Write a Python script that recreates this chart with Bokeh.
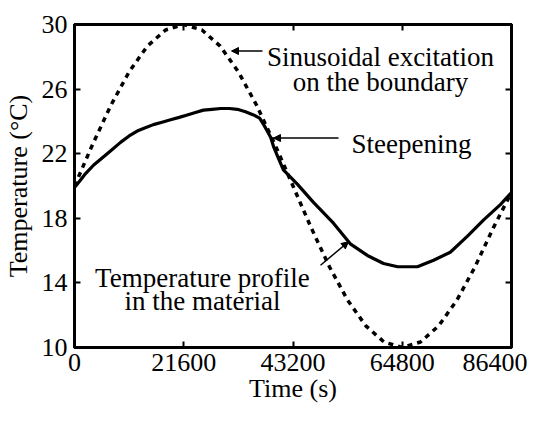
from bokeh.plotting import figure
from bokeh.models import (Range1d, FixedTicker, LinearAxis, Label, Arrow,
                          NormalHead, CustomJSTickFormatter)
from bokeh.embed import file_html
from bokeh.resources import INLINE

# ---- data ----
time_exc = [0, 3600, 7200, 10800, 14400, 18000, 21600, 25200, 28800, 32400, 36000, 39600,
            43200, 46800, 50400, 54000, 57600, 61200, 64800, 68400, 72000, 75600, 79200, 82800, 86400]
temp_exc = [20.0, 22.59, 25.0, 27.07, 28.66, 29.66, 30.0, 29.66, 28.66, 27.07, 25.0, 22.59,
            20.0, 17.41, 15.0, 12.93, 11.34, 10.34, 10.0, 10.34, 11.34, 12.93, 15.0, 17.41, 19.6]

time_mat = [0, 1000, 2000, 3800, 5700, 7400, 9100, 10800, 12400, 14000, 15600, 17300, 19000,
            20700, 22300, 23900, 25500, 27200, 28900, 30600, 32200, 33800, 35400, 36600,
            37400, 38100, 38800, 39400, 40200, 41300, 42700, 44100, 47200, 51200, 54600,
            57900, 61100, 63900, 67800, 71000, 74300, 77700, 80900, 84200, 86400]
temp_mat = [19.9, 20.3, 20.7, 21.3, 21.8, 22.25, 22.7, 23.1, 23.4, 23.6, 23.8, 23.95, 24.1,
            24.25, 24.4, 24.55, 24.7, 24.75, 24.8, 24.8, 24.75, 24.6, 24.4, 24.2,
            23.8, 23.4, 23.0, 22.4, 21.8, 21.0, 20.55, 20.1, 19.0, 17.7, 16.4,
            15.7, 15.2, 15.0, 15.0, 15.4, 15.9, 16.9, 17.9, 18.85, 19.6]

x_ticks = [0, 21600, 43200, 64800, 86400]
y_ticks = [10, 14, 18, 22, 26, 30]

FONT = "Liberation Serif"
FS = "26px"
FS_NOTE = "27px"

p = figure(width=527, height=405, output_backend="svg", toolbar_location=None,
           x_range=Range1d(0, 86400), y_range=Range1d(10, 30),
           min_border_left=74, min_border_right=16, min_border_top=24, min_border_bottom=57,
           background_fill_color="white", border_fill_color="white")
p.grid.visible = False
p.outline_line_color = "black"
p.outline_line_width = 3

def style_axis(ax, ticks):
    ax.ticker = FixedTicker(ticks=ticks)
    ax.axis_line_width = 3
    ax.axis_line_color = "black"
    ax.major_tick_in = 6
    ax.major_tick_out = 0
    ax.major_tick_line_width = 2
    ax.minor_tick_line_color = None
    ax.major_label_text_font = FONT
    ax.major_label_text_font_size = FS
    ax.major_label_text_color = "black"
    ax.axis_label_text_font = FONT
    ax.axis_label_text_font_size = FS
    ax.axis_label_text_font_style = "normal"
    ax.axis_label_text_color = "black"

style_axis(p.xaxis[0], x_ticks)
style_axis(p.yaxis[0], y_ticks)
p.xaxis.axis_label = "Time (s)"
p.yaxis.axis_label = "Temperature (°C)"
p.xaxis.major_label_standoff = 6
p.xaxis.axis_label_standoff = 0
p.yaxis.major_label_standoff = 7
p.yaxis.axis_label_standoff = 6

blank = CustomJSTickFormatter(code="return ''")
top = LinearAxis(formatter=blank)
right = LinearAxis(formatter=blank)
style_axis(top, x_ticks)
style_axis(right, y_ticks)
top.major_label_text_font_size = "0px"
right.major_label_text_font_size = "0px"
top.major_label_standoff = 0
right.major_label_standoff = 0
p.add_layout(top, "above")
p.add_layout(right, "right")

p.line(time_exc, temp_exc, line_color="black", line_width=3.5, line_dash="5 5")
p.line(time_mat, temp_mat, line_color="black", line_width=3.2)

def lab(x, y, t, align):
    p.add_layout(Label(x=x, y=y, text=t, text_font=FONT, text_font_size=FS_NOTE,
                       text_align=align, text_baseline="alphabetic", text_color="black"))

lab(60500, 28.0, "Sinusoidal excitation", "center")
lab(60500, 26.42, "on the boundary", "center")
lab(54760, 22.6, "Steepening", "left")
lab(25300, 14.3, "Temperature profile", "center")
lab(25300, 12.9, "in the material", "center")

def arrow(x0, y0, x1, y1):
    p.add_layout(Arrow(end=NormalHead(size=7, fill_color="black", line_color="black"),
                       x_start=x0, y_start=y0, x_end=x1, y_end=y1,
                       line_width=1.5, line_color="black"))

arrow(37170, 28.36, 31040, 28.36)
arrow(52200, 22.97, 39340, 22.97)
arrow(48640, 15.09, 54170, 16.55)

open("out.html", "w").write(file_html(p, INLINE))
